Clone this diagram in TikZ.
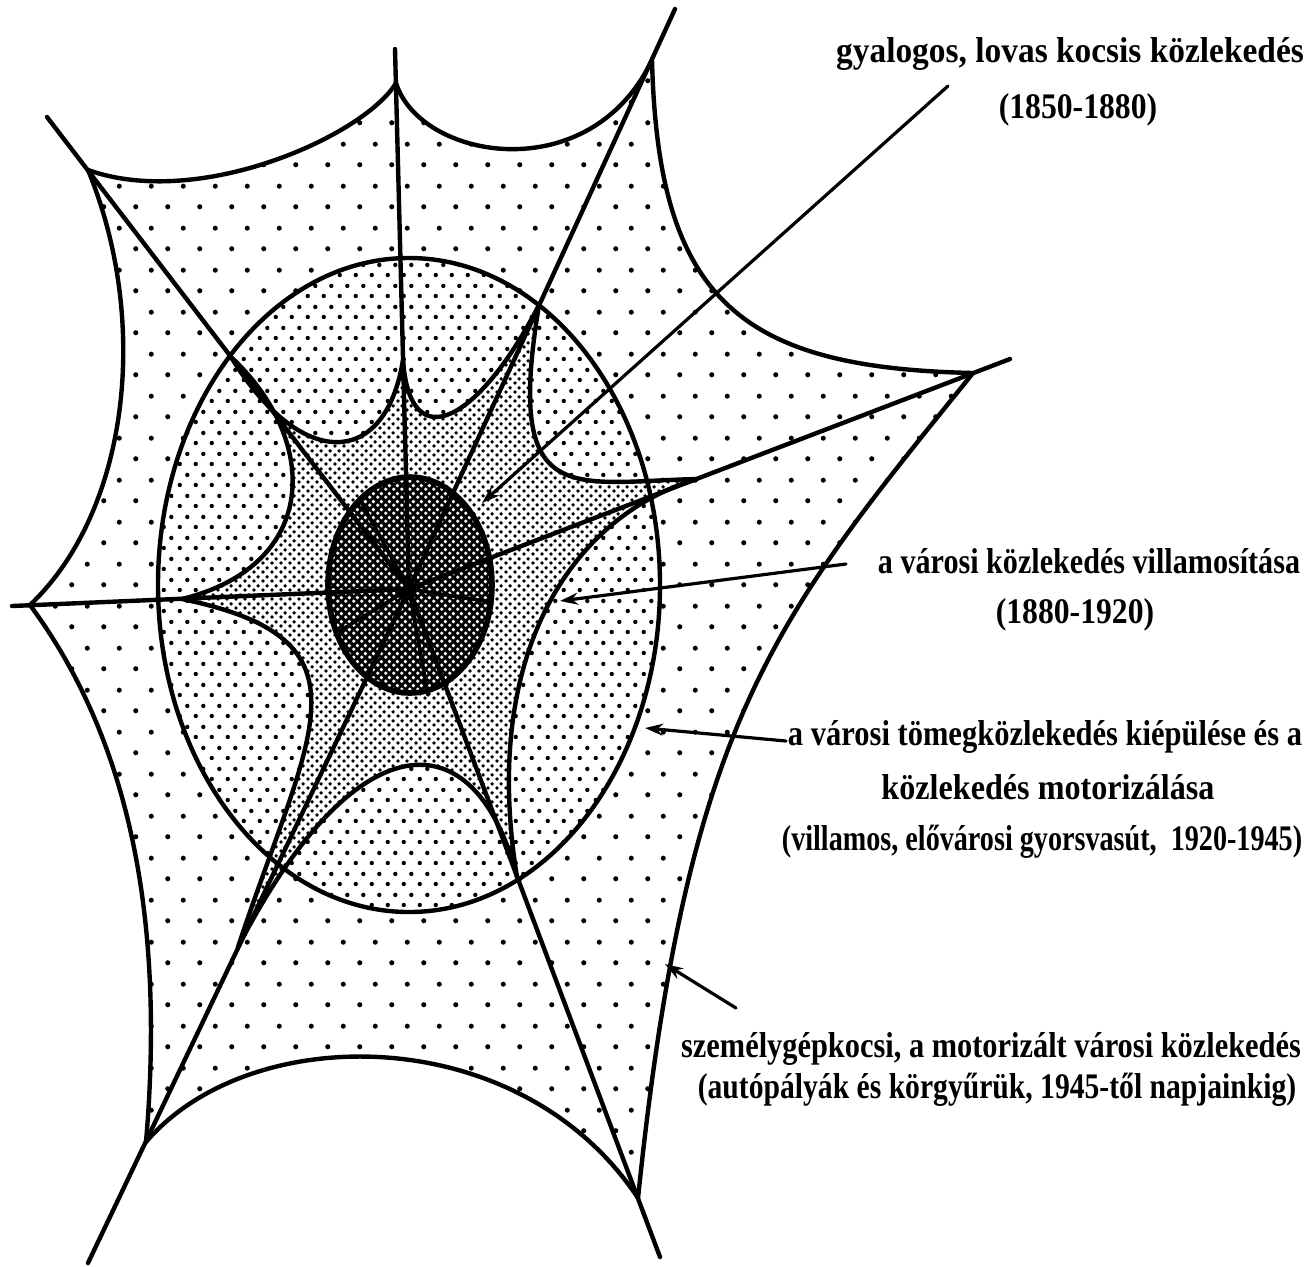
\documentclass[tikz,border=0pt]{standalone}
\usepackage{fontspec}
\usepackage{graphicx}
\setmainfont{Liberation Serif}
\usetikzlibrary{arrows.meta,patterns}
\pgfdeclarepatternformonly{sparsedots}{\pgfpointorigin}{\pgfpoint{16pt}{21pt}}{\pgfpoint{16pt}{21pt}}{%
  \pgfpathcircle{\pgfpoint{4pt}{5.25pt}}{1.3pt}%
  \pgfpathcircle{\pgfpoint{12pt}{15.75pt}}{1.3pt}%
  \pgfusepath{fill}}
\pgfdeclarepatternformonly{mediumdots}{\pgfpointorigin}{\pgfpoint{8pt}{10.5pt}}{\pgfpoint{8pt}{10.5pt}}{%
  \pgfpathcircle{\pgfpoint{2pt}{2.625pt}}{1.15pt}%
  \pgfpathcircle{\pgfpoint{6pt}{7.875pt}}{1.15pt}%
  \pgfusepath{fill}}
\pgfdeclarepatternformonly{densedots}{\pgfpointorigin}{\pgfpoint{4.5pt}{4.5pt}}{\pgfpoint{4.5pt}{4.5pt}}{%
  \pgfpathcircle{\pgfpoint{1.125pt}{1.125pt}}{1.05pt}%
  \pgfpathcircle{\pgfpoint{3.375pt}{3.375pt}}{1.05pt}%
  \pgfusepath{fill}}
\pgfdeclarepatternformonly{coredots}{\pgfpointorigin}{\pgfpoint{4pt}{4pt}}{\pgfpoint{4pt}{4pt}}{%
  \pgfpathcircle{\pgfpoint{1pt}{1pt}}{1pt}%
  \pgfpathcircle{\pgfpoint{3pt}{3pt}}{1pt}%
  \pgfusepath{fill}}
\newcommand{\sq}[2]{\scalebox{#1}[1]{#2}}
\begin{document}
\begin{tikzpicture}[x=0.5pt,y=-0.5pt,line join=round,line cap=round,
  edge/.style={line width=2.2pt},
  coreedge/.style={line width=2.8pt},
  ray/.style={line width=2.2pt},
  spoke/.style={line width=1.8pt},
  ptr/.style={line width=1.6pt,-{Stealth[length=9pt,width=6pt]}},
  lbl/.style={font=\bfseries\fontsize{18}{21}\selectfont,inner sep=0pt,anchor=base}]
\useasboundingbox (0,0) rectangle (1310,1266);
\fill[white] (0,0) rectangle (1310,1266);
% centre and rays
\coordinate (C) at (409,589);
\coordinate (R1) at (47,117);   \coordinate (O1) at (88,170);   \coordinate (I1) at (231,357);
\coordinate (R2) at (395,49);   \coordinate (O2) at (396,83);   \coordinate (I2) at (403,360);
\coordinate (R3) at (675,9);    \coordinate (O3) at (652,60);   \coordinate (I3) at (539,305);
\coordinate (R4) at (1010,359); \coordinate (O4) at (973,373);  \coordinate (I4) at (697,479);
\coordinate (R5) at (660,1257); \coordinate (O5) at (638,1198); \coordinate (I5) at (517,877);
\coordinate (R6) at (88,1263);  \coordinate (O6) at (146,1142); \coordinate (I6) at (238,947);
\coordinate (R7) at (12,606);   \coordinate (O7) at (30,605);   \coordinate (I7) at (182,599);
\def\outerstar{(O1) .. controls (200,210) and (365,135) .. (O2)
  .. controls (420,160) and (590,190) .. (O3)
  .. controls (658,300) and (740,368) .. (O4)
  .. controls (773,621) and (688,718) .. (O5)
  .. controls (520,1020) and (250,1020) .. (O6)
  .. controls (165,920) and (130,740) .. (O7)
  .. controls (130,510) and (150,320) .. (O1) -- cycle}
\def\innerstar{(I1) .. controls (300,470) and (385,470) .. (I2)
  .. controls (410,460) and (480,420) .. (I3)
  .. controls (505,510) and (570,482) .. (I4)
  .. controls (575,515) and (480,650) .. (I5)
  .. controls (475,715) and (355,720) .. (I6)
  .. controls (310,730) and (380,640) .. (I7)
  .. controls (320,565) and (320,440) .. (I1) -- cycle}
\def\bigoval{(409,585) ellipse [x radius=251,y radius=327]}
\def\coreoval{(410,585) ellipse [x radius=82,y radius=108]}
% zones
\fill[pattern=sparsedots,pattern color=black] \outerstar;
\fill[white] \bigoval;
\fill[pattern=mediumdots,pattern color=black] \bigoval;
\fill[white] \innerstar;
\fill[pattern=densedots,pattern color=black] \innerstar;
\fill[black] \coreoval;
\fill[pattern=coredots,pattern color=white] \coreoval;
% outlines
\draw[edge] \outerstar;
\draw[edge] \bigoval;
\draw[edge] \innerstar;
\draw[coreedge] \coreoval;
% rays
\foreach \r in {R1,R2,R3,R4,R5,R6,R7} {\draw[ray] (\r) -- (C);}
\coordinate (S1) at (338,632);
\coordinate (S2) at (428,695);
\coordinate (S3) at (491,602);
\coordinate (S4) at (360,500);
\foreach \s in {S1,S2,S3,S4} {\draw[spoke] (C) -- (\s);}
% pointers
\coordinate (P1a) at (948,86);  \coordinate (P1b) at (482,503);
\coordinate (P2a) at (846,564); \coordinate (P2b) at (560,601);
\coordinate (P3a) at (786,741); \coordinate (P3b) at (645,728);
\coordinate (P4a) at (736,1008);\coordinate (P4b) at (665,964);
\draw[ptr] (P1a) -- (P1b);
\draw[ptr] (P2a) -- (P2b);
\draw[ptr] (P3a) -- (P3b);
\draw[ptr] (P4a) -- (P4b);
% labels
\node[lbl] (t1) at (1070,62) {\sq{0.928}{gyalogos, lovas kocsis közlekedés}};
\node[lbl] (t2) at (1078,118) {\sq{0.88}{(1850-1880)}};
\node[lbl] (t3) at (1089,573) {\sq{0.837}{a városi közlekedés villamosítása}};
\node[lbl] (t4) at (1075,623) {\sq{0.88}{(1880-1920)}};
\node[lbl] (t5) at (1045,745) {\sq{0.848}{a városi tömegközlekedés kiépülése és a}};
\node[lbl] (t6) at (1048,799) {\sq{0.893}{közlekedés motorizálása}};
\node[lbl] (t7) at (1042,850) {\sq{0.782}{(villamos, elővárosi gyorsvasút,\enspace 1920-1945)}};
\node[lbl] (t8) at (991,1057) {\sq{0.844}{személygépkocsi, a motorizált városi közlekedés}};
\node[lbl] (t9) at (997,1098) {\sq{0.823}{(autópályák és körgyűrük, 1945-től napjainkig)}};
\end{tikzpicture}
\end{document}
